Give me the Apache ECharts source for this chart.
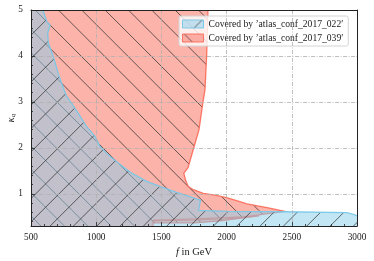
<!DOCTYPE html>
<html><head><meta charset="utf-8">
<script src="https://cdn.jsdelivr.net/npm/echarts@6/dist/echarts.min.js"></script>
<style>html,body{margin:0;padding:0;background:#fff}#c{width:374px;height:261px}</style>
</head><body><div id="c"></div>
<script>
// ---- data ----
const xTicks = [500, 1000, 1500, 2000, 2500, 3000];
const yTicks = [1, 2, 3, 4, 5];
const xRange = [500, 3000];
const yRange = [0.3, 5];
const seriesNames = ["Covered by \u2019atlas_conf_2017_022\u2032", "Covered by \u2019atlas_conf_2017_039\u2032"];

// region covered by atlas_conf_2017_022 (blue)
const blueF = [500, 500, 592, 620, 646, 628, 633, 671, 709, 735, 774, 812, 863, 927, 991, 1029, 1080, 1169, 1272, 1387, 1489, 1617, 1694, 1760, 1800, 1785, 2010, 2440, 2923, 2985, 3000, 3000];
const blueK = [0.3, 5, 5, 4.75, 4.67, 4.49, 4.28, 3.99, 3.62, 3.4, 3.12, 2.97, 2.75, 2.46, 2.25, 2.03, 1.88, 1.67, 1.45, 1.27, 1.16, 1.03, 0.96, 0.9, 0.86, 0.64, 0.62, 0.61, 0.59, 0.54, 0.52, 0.3];

// region covered by atlas_conf_2017_039 (red)
const redF = [500, 500, 1857, 1847, 1834, 1821, 1788, 1750, 1704, 1672, 1685, 1706, 1745, 1821, 1911, 2000, 2102, 2156, 2310, 2445, 2133, 1911, 1696, 1500, 1440, 1435];
const redK = [0.3, 5, 5, 4.0, 3.26, 3.04, 2.39, 2.02, 1.57, 1.45, 1.3, 1.16, 1.09, 1.01, 0.97, 0.92, 0.83, 0.78, 0.70, 0.62, 0.50, 0.47, 0.45, 0.43, 0.42, 0.3];
// thin strip of the same region below
const red2F = [1440, 1440, 1750, 1950, 2250, 2000, 1700];
const red2K = [0.42, 0.37, 0.37, 0.41, 0.52, 0.46, 0.43];

// ---- hatch patterns ----
function hatchTile(dir, phase, fill) {
  const s = 70, c = document.createElement('canvas');
  c.width = s; c.height = s;
  const g = c.getContext('2d');
  if (fill) { g.fillStyle = fill; g.fillRect(0, 0, s, s); }
  g.strokeStyle = 'rgba(45,45,45,0.8)';
  g.lineWidth = 0.9;
  const step = s / 3;
  for (let k = -8; k <= 12; k++) {
    const o = phase + k * step;
    g.beginPath();
    if (dir === 'back') { g.moveTo(o, 0); g.lineTo(o + s, s); }
    else { g.moveTo(o, 0); g.lineTo(o - s, s); }
    g.stroke();
  }
  return c;
}
const redFill = 'rgba(250,128,114,0.6)';
const blueFill = 'rgba(135,206,235,0.5)';
const redEdge = 'rgba(250,100,80,0.85)';
const blueEdge = 'rgba(120,200,232,0.95)';
const redPat = { image: hatchTile('back', 1.7, redFill), repeat: 'repeat' };
const bluePat = { image: hatchTile('fwd', 19.5, blueFill), repeat: 'repeat' };

function onFrameSeg(F, K, i, j) {
  return (F[i] === F[j] && (F[i] === xRange[0] || F[i] === xRange[1])) ||
         (K[i] === K[j] && (K[i] === yRange[0] || K[i] === yRange[1]));
}
function regionShapes(api, F, K, pat, edge) {
  const pts = F.map((f, i) => api.coord([f, K[i]]));
  const out = [{ type: 'polygon', shape: { points: pts }, style: { fill: pat, lineWidth: 0 } }];
  const n = F.length; let cur = [];
  for (let i = 0; i < n; i++) {
    const j = (i + 1) % n;
    if (onFrameSeg(F, K, i, j)) { if (cur.length > 1) out.push(mk(cur)); cur = []; }
    else { if (!cur.length) cur.push(pts[i]); cur.push(pts[j]); }
  }
  if (cur.length > 1) out.push(mk(cur));
  function mk(p) { return { type: 'polyline', shape: { points: p }, style: { fill: null, stroke: edge, lineWidth: 1.3 } }; }
  return out;
}

const serif = 'Liberation Serif';
const chart = echarts.init(document.getElementById('c'), null, { renderer: 'canvas' });
const tickCol = '#222';
chart.setOption({
  animation: false,
  grid: { left: 31, right: 17, top: 10, bottom: 35, containLabel: false, outerBoundsMode: 'none' },
  legend: {
    orient: 'vertical', left: 179, top: 16, padding: [3, 5, 3, 3], itemGap: 4,
    itemWidth: 21, itemHeight: 8,
    backgroundColor: 'rgba(255,255,255,0.8)', borderColor: '#d4d4d4', borderWidth: 1, borderRadius: 2,
    textStyle: { fontFamily: serif, fontSize: 9.6, color: '#222' },
    data: [
      { name: seriesNames[0], icon: 'rect', itemStyle: { color: bluePat, borderColor: blueEdge, borderWidth: 1 } },
      { name: seriesNames[1], icon: 'rect', itemStyle: { color: redPat, borderColor: redEdge, borderWidth: 1 } }
    ]
  },
  xAxis: [{
    type: 'value', min: xRange[0], max: xRange[1], interval: 500, position: 'bottom', z: 10,
    axisLine: { show: true, onZero: false, lineStyle: { color: tickCol, width: 1 } },
    axisTick: { show: true, inside: true, length: 4, lineStyle: { color: tickCol, width: 0.8 } },
    minorTick: { show: true, splitNumber: 5, length: 2, lineStyle: { color: tickCol, width: 0.8 } },
    axisLabel: { color: '#222', fontFamily: serif, fontSize: 9.3, margin: 7, formatter: v => String(v) },
    splitLine: { show: true, lineStyle: { color: '#b0b0b0', width: 0.8, type: [4, 1.5, 1, 1.5] } },
    name: '{i|f} in GeV', nameLocation: 'middle', nameGap: 13,
    nameTextStyle: { fontFamily: serif, fontSize: 10.5, color: '#222', rich: { i: { fontFamily: serif, fontStyle: 'italic', fontSize: 10.5, color: '#222' } } }
  }, {
    type: 'value', min: xRange[0], max: xRange[1], position: 'top', z: 10,
    axisLine: { show: true, lineStyle: { color: tickCol, width: 1 } },
    axisTick: { show: false }, axisLabel: { show: false }, splitLine: { show: false }
  }],
  yAxis: [{
    type: 'value', min: yRange[0], max: yRange[1], position: 'left', z: 10,
    axisLine: { show: true, onZero: false, lineStyle: { color: tickCol, width: 1 } },
    axisTick: { show: true, inside: true, length: 4, lineStyle: { color: tickCol, width: 0.8 } },
    minorTick: { show: true, splitNumber: 5, length: 2, lineStyle: { color: tickCol, width: 0.8 } },
    axisLabel: { color: '#222', fontFamily: serif, fontSize: 9.3, margin: 8, showMinLabel: false },
    splitLine: { show: true, lineStyle: { color: '#b0b0b0', width: 0.8, type: [4, 1.5, 1, 1.5] } },
    name: '{k|\u03ba}{q|q}', nameLocation: 'middle', nameGap: 14, nameRotate: 90, nameMoveOverlap: false,
    nameTextStyle: { rich: { k: { fontFamily: serif, fontStyle: 'italic', fontSize: 10, color: '#222' }, q: { fontFamily: serif, fontStyle: 'italic', fontSize: 7, color: '#222', padding: [5, 0, 0, 0] } } }
  }, {
    type: 'value', min: yRange[0], max: yRange[1], position: 'right', z: 10,
    axisLine: { show: true, onZero: false, lineStyle: { color: tickCol, width: 1 } },
    axisTick: { show: false }, axisLabel: { show: false }, splitLine: { show: false }
  }],
  series: [{
    name: seriesNames[1], type: 'custom', silent: true, z: 2,
    itemStyle: { color: redPat },
    data: redF.map((f, i) => [f, redK[i]]),
    renderItem: function (params, api) {
      if (params.dataIndex !== 0) return null;
      return { type: 'group', children: regionShapes(api, red2F, red2K, redPat, redEdge).concat(regionShapes(api, redF, redK, redPat, redEdge)) };
    }
  }, {
    name: seriesNames[0], type: 'custom', silent: true, z: 3,
    itemStyle: { color: bluePat },
    data: blueF.map((f, i) => [f, blueK[i]]),
    renderItem: function (params, api) {
      if (params.dataIndex !== 0) return null;
      return { type: 'group', children: regionShapes(api, blueF, blueK, bluePat, blueEdge) };
    }
  }]
});
</script></body></html>
